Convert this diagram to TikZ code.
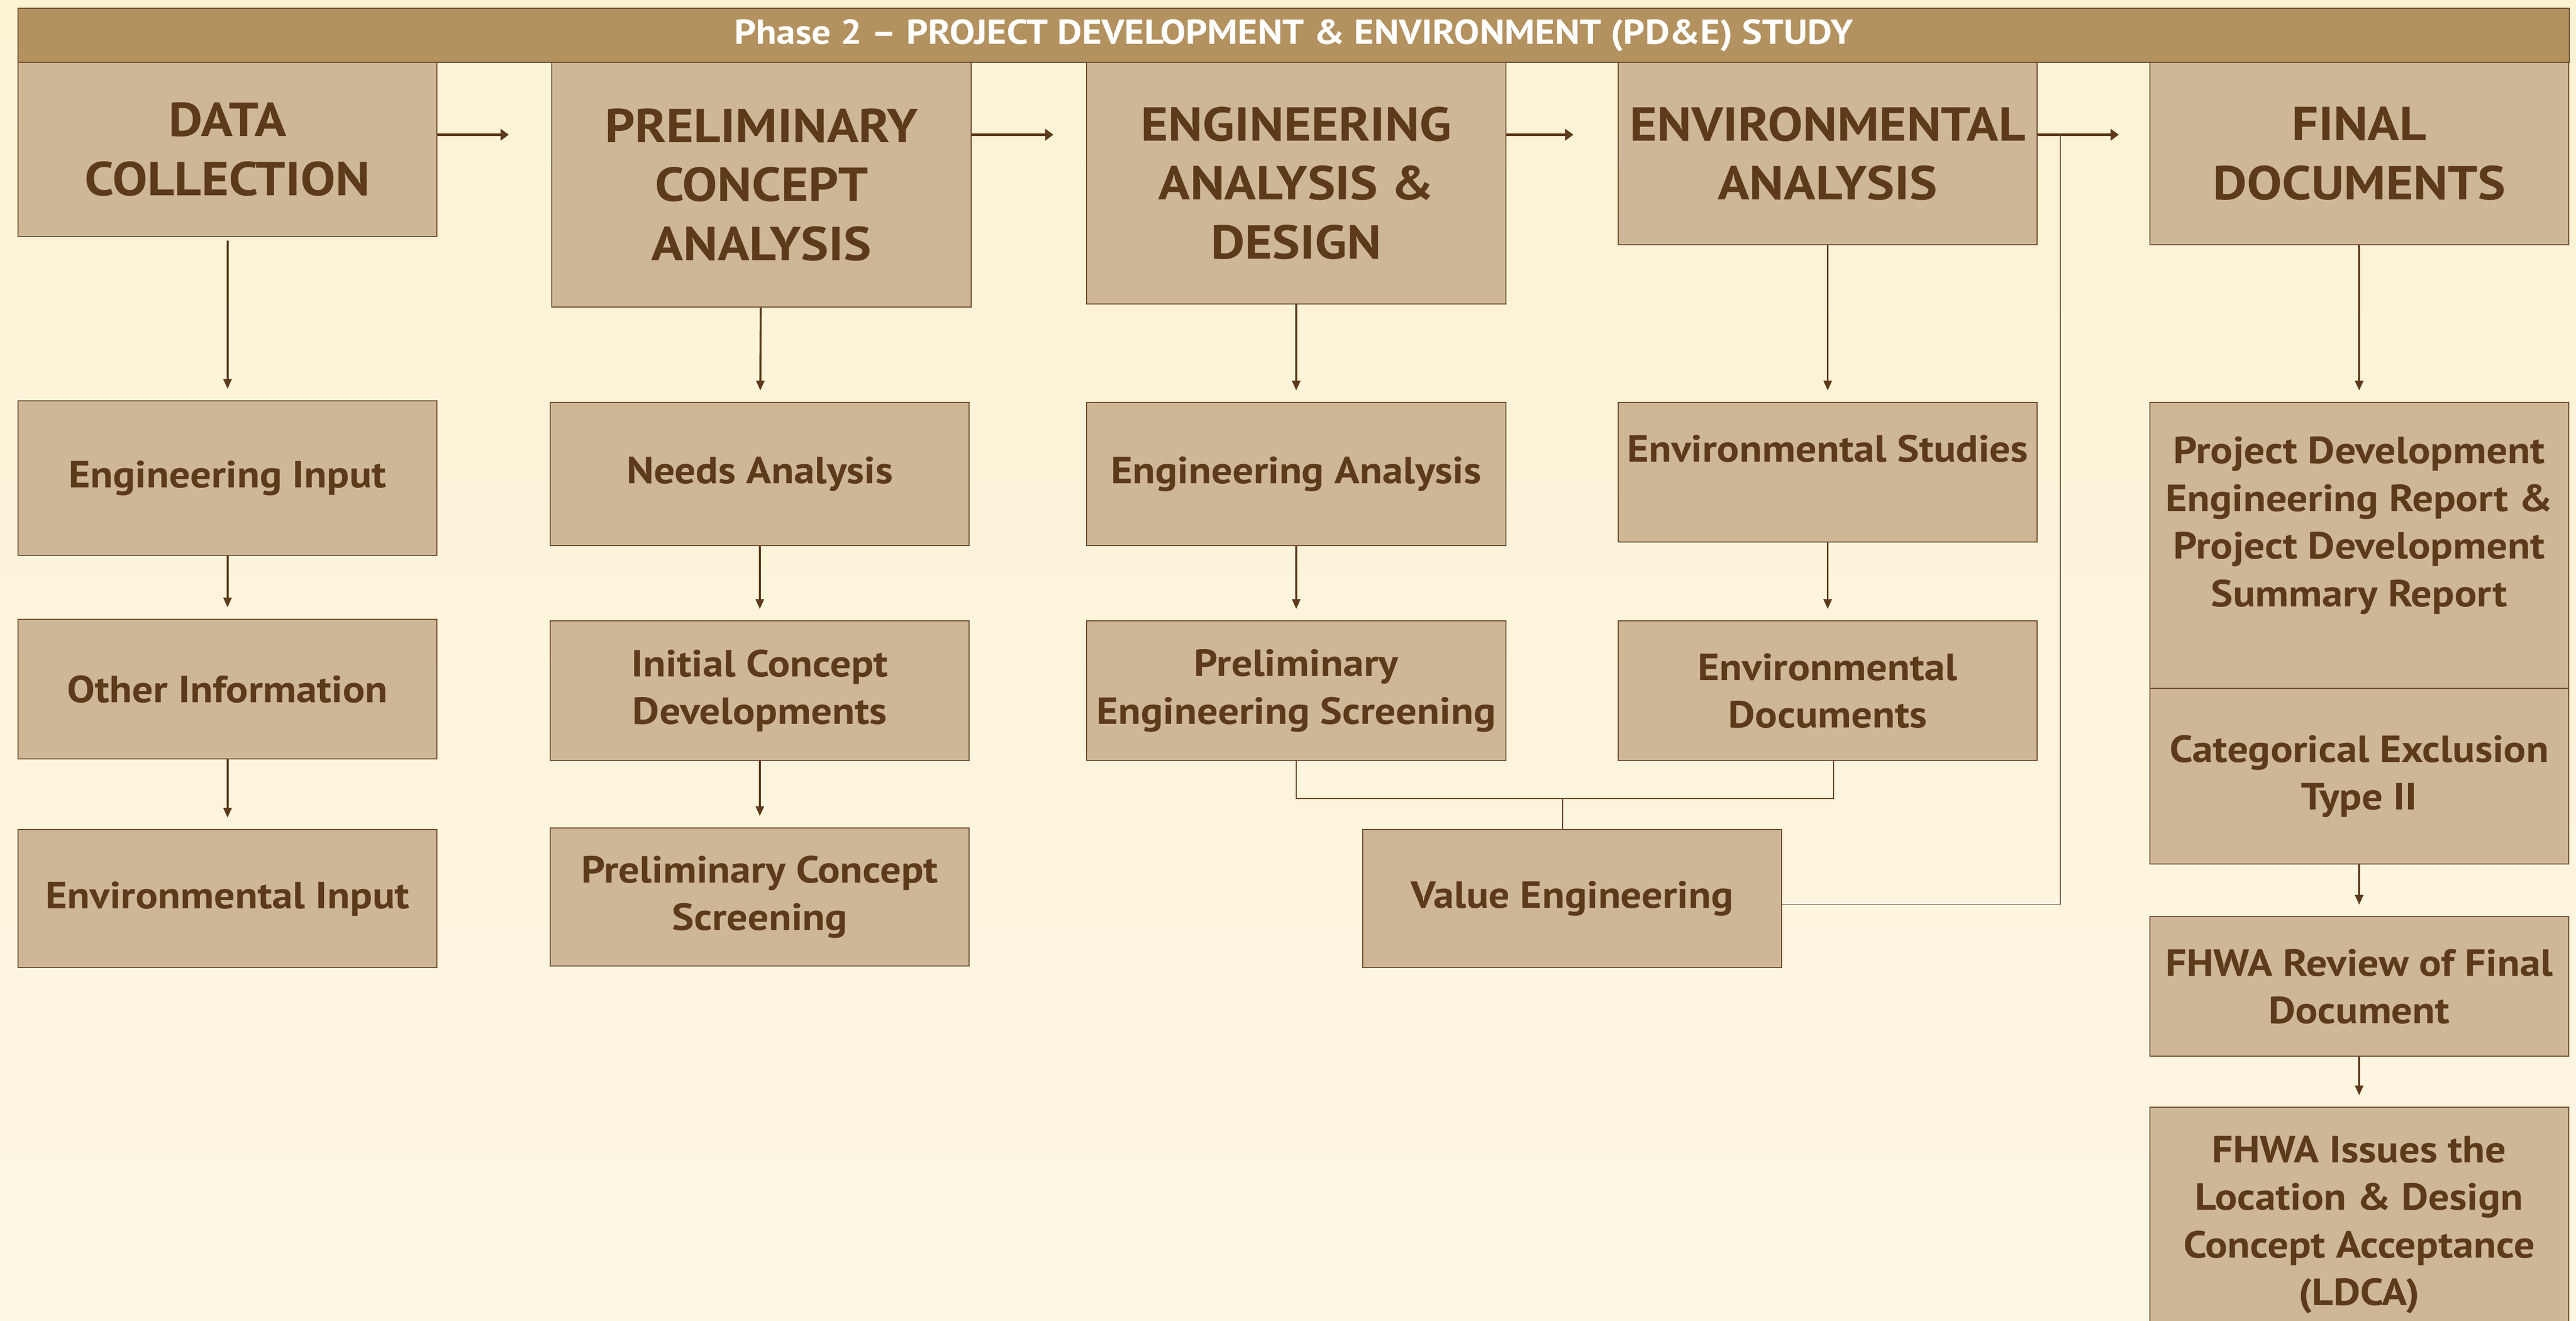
\documentclass[tikz,border=0pt]{standalone}
\usepackage{fontspec}
\setmainfont{PT Sans}[FakeStretch=1.1]
\usetikzlibrary{arrows.meta}
\definecolor{cream}{HTML}{FCF2D4}
\definecolor{creamlow}{HTML}{FDF6E3}
\definecolor{barbrown}{HTML}{B39260}
\definecolor{boxtan}{HTML}{CEB797}
\definecolor{inkbrown}{HTML}{5C3A1A}
\definecolor{edgebrown}{HTML}{6E4C2C}
\begin{document}
\begin{tikzpicture}[x=1pt, y=-1pt,
  every node/.style = {shape=rectangle, draw=edgebrown, line width=0.6pt,
    fill=boxtan, text=inkbrown, align=center, font=\bfseries,
    inner sep=0pt},
  headbox/.style = {minimum width=255pt,
    font=\fontsize{29}{36}\selectfont\bfseries},
  taskbox/.style = {minimum width=255pt,
    font=\fontsize{23}{29}\selectfont\bfseries},
  vflow/.style = {draw=inkbrown, line width=1.2pt,
    -{Triangle[length=6pt, width=5pt]}, shorten >=7pt},
  hflow/.style = {draw=inkbrown, line width=1.6pt,
    -{Triangle[length=5pt, width=7pt]}},
  thinline/.style = {draw=edgebrown, line width=0.6pt}]

\useasboundingbox (0,0) rectangle (1568,804);
\clip (0,0) rectangle (1568,804);
\shade[top color=cream, bottom color=creamlow] (0,0) rectangle (1568,804);

% phase banner
\node[minimum width=1553pt, minimum height=33pt, fill=barbrown, text=white,
  font=\fontsize{21}{25}\selectfont\bfseries] (banner) at (787.5,21.5)
  {Phase 2 -- PROJECT DEVELOPMENT \& ENVIRONMENT (PD\&E) STUDY};

% main stages
\node[headbox, minimum height=106pt] (datacol) at (138.5,91) {DATA\\COLLECTION};
\node[headbox, minimum height=149pt] (prelim) at (463.5,112.5) {PRELIMINARY\\CONCEPT\\ANALYSIS};
\node[headbox, minimum height=147pt] (engdesign) at (789,111.5) {ENGINEERING\\ANALYSIS \&\\DESIGN};
\node[headbox, minimum height=111pt] (envanalysis) at (1112.5,93.5) {ENVIRONMENTAL\\ANALYSIS};
\node[headbox, minimum height=111pt] (finaldocs) at (1436,93.5) {FINAL\\DOCUMENTS};

% data collection column
\node[taskbox, minimum height=94pt] (enginput) at (138.5,291) {Engineering Input};
\node[taskbox, minimum height=85pt] (otherinfo) at (138.5,419.5) {Other Information};
\node[taskbox, minimum height=84pt] (envinput) at (138.5,547) {Environmental Input};

% concept column
\node[taskbox, minimum height=87pt] (needs) at (462.5,288.5) {Needs Analysis};
\node[taskbox, minimum height=85pt] (initconcept) at (462.5,420.5) {Initial Concept\\Developments};
\node[taskbox, minimum height=84pt] (prelimscreen) at (462.5,546) {Preliminary Concept\\Screening};

% engineering column
\node[taskbox, minimum height=87pt] (enganalysis) at (789,288.5) {Engineering Analysis};
\node[taskbox, minimum height=85pt] (prelimeng) at (789,420.5) {Preliminary\\Engineering Screening};
\node[taskbox, minimum height=84pt] (valueeng) at (957,547) {Value Engineering};

% environmental column
\node[taskbox, minimum height=85pt] (envstudies) at (1112.5,287.5) {Environmental Studies\\\phantom{X}};
\node[taskbox, minimum height=85pt] (envdocs) at (1112.5,420.5) {Environmental\\Documents};

% final documents column
\node[taskbox, minimum height=174pt] (pdreport) at (1436,332)
  {Project Development\\Engineering Report \&\\Project Development\\Summary Report\\\phantom{X}};
\node[taskbox, minimum height=107pt] (catexcl) at (1436,472.5) {Categorical Exclusion\\Type II};
\node[taskbox, minimum height=85pt] (fhwareview) at (1436,600.5) {FHWA Review of Final\\Document};
\node[taskbox, minimum height=143pt] (ldca) at (1436,745.5)
  {FHWA Issues the\\Location \& Design\\Concept Acceptance\\(LDCA)};

% stage to stage
\draw[hflow, shorten >=26pt] (datacol.east |- 0,82) -- (prelim.west |- 0,82);
\draw[hflow, shorten >=20pt] (prelim.east |- 0,82) -- (engdesign.west |- 0,82);
\draw[hflow, shorten >=27pt] (engdesign.east |- 0,82) -- (envanalysis.west |- 0,82);
\draw[hflow, shorten >=18.5pt] (envanalysis.east |- 0,82) -- (finaldocs.west |- 0,82);

% down the columns
\draw[vflow, shorten <=2pt] (datacol) -- (enginput);
\draw[vflow] (enginput) -- (otherinfo);
\draw[vflow] (otherinfo) -- (envinput);
\draw[vflow] (prelim) -- (needs);
\draw[vflow] (needs) -- (initconcept);
\draw[vflow] (initconcept) -- (prelimscreen);
\draw[vflow] (engdesign) -- (enganalysis);
\draw[vflow] (enganalysis) -- (prelimeng);
\draw[vflow] (envanalysis) -- (envstudies);
\draw[vflow] (envstudies) -- (envdocs);
\draw[vflow] (finaldocs) -- (pdreport);
\draw[vflow] (catexcl) -- (fhwareview);
\draw[vflow] (fhwareview) -- (ldca);

% value engineering links
\coordinate (vejoin) at (951,486);
\coordinate (feedback) at (1254,82);
\draw[thinline] (prelimeng.south) |- (vejoin) -| ([xshift=3.5pt]envdocs.south);
\draw[thinline] (vejoin) -- (vejoin |- valueeng.north);
\draw[thinline] ([yshift=-3.5pt]valueeng.east) -| (feedback);
\end{tikzpicture}
\end{document}
